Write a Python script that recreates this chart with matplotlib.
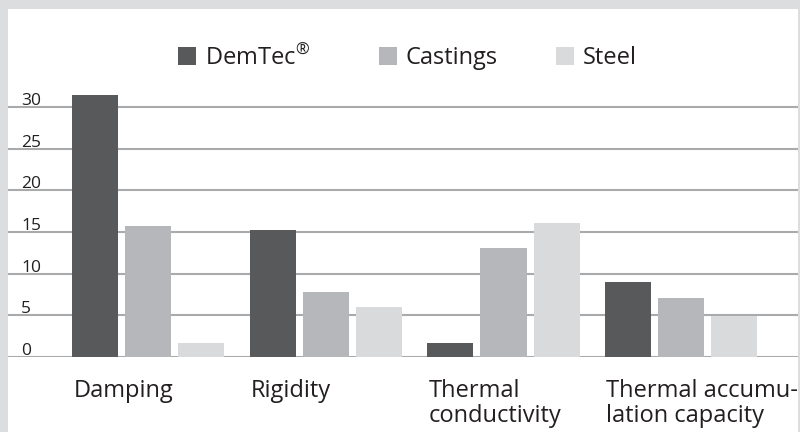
import numpy as np
import matplotlib
matplotlib.use("Agg")
import matplotlib.pyplot as plt
from matplotlib.patches import Rectangle

categories = ["Damping", "Rigidity", "Thermal\nconductivity", "Thermal accumu-\nlation capacity"]
series = ["DemTec$^{®}$", "Castings", "Steel"]
demtec = [31.4, 15.2, 1.65, 9.0]
castings = [15.7, 7.8, 13.1, 7.05]
steel = [1.65, 6.0, 16.1, 4.85]
yticks = [0, 5, 10, 15, 20, 25, 30]

colors = ["#58595b", "#b6b7ba", "#d9dadc"]
grid_col = "#a9aaac"
text_col = "#231f20"

plt.rcParams["font.family"] = ["Open Sans", "DejaVu Sans"]
plt.rcParams["mathtext.fontset"] = "custom"
plt.rcParams["mathtext.rm"] = "Open Sans"
plt.rcParams["mathtext.it"] = "Open Sans"

W, H = 800, 432
fig = plt.figure(figsize=(W / 100, H / 100), dpi=100, facecolor="#dcddde")

# white panel
fig.patches.append(Rectangle((8 / W, 0), 790 / W, (H - 9) / H, transform=fig.transFigure,
                             facecolor="white", edgecolor="none", zorder=-5))

ax = fig.add_axes([8 / W, (H - 356.7) / H, 790 / W, 32 * 8.32 / H])
ax.set_facecolor("none")
ax.set_zorder(2)

x = np.arange(len(categories))
unit = 177.6
bw = 46 / unit
step = 53 / unit
for i, vals in enumerate([demtec, castings, steel]):
    ax.bar(x + (i - 1) * step, vals, width=bw, color=colors[i], zorder=3)

ax.set_xlim((8 - 148.3) / unit, (798 - 148.3) / unit)
ax.set_ylim(0, 32)
ax.set_yticks(yticks)
ax.tick_params(left=False, bottom=False, labelleft=False, labelbottom=False)
ax.yaxis.grid(True, color=grid_col, linewidth=1.5)
ax.set_axisbelow(True)
for s in ax.spines.values():
    s.set_visible(False)

# y tick labels sit just above the gridlines
for t in yticks:
    ax.annotate(str(t), xy=(13 / 790, t), xycoords=("axes fraction", "data"),
                xytext=(0, 2), textcoords="offset pixels",
                ha="left", va="baseline", fontsize=12.5, color=text_col)

# category labels, left aligned with each group, one text per line
for i, c in enumerate(categories):
    for j, line in enumerate(c.split("\n")):
        ax.annotate(line, xy=(x[i] - step - bw / 2, 0), xycoords="data",
                    xytext=(1, -40 - 25 * j), textcoords="offset pixels",
                    ha="left", va="baseline", fontsize=17, color=text_col,
                    annotation_clip=False)

# legend drawn by hand
leg_x = [178, 379, 556]
for i, name in enumerate(series):
    fig.patches.append(Rectangle((leg_x[i] / W, (H - 64.5) / H), 17.5 / W, 17.5 / H,
                                 transform=fig.transFigure, facecolor=colors[i],
                                 edgecolor="none", zorder=2))
    fig.text((leg_x[i] + 27) / W, (H - 64.5) / H, name, ha="left", va="baseline",
             fontsize=17, color=text_col)

fig.savefig("out.png", dpi=100, facecolor=fig.get_facecolor())
